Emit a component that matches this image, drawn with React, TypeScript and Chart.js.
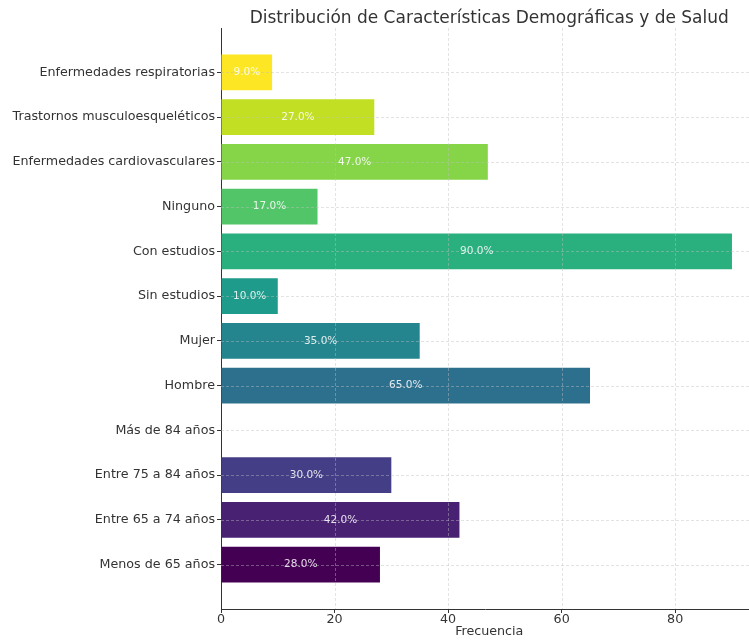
import React, { useEffect, useRef } from "react";
import { Chart, registerables } from "chart.js";

Chart.register(...registerables);

const categories = [
  "Menos de 65 años",
  "Entre 65 a 74 años",
  "Entre 75 a 84 años",
  "Más de 84 años",
  "Hombre",
  "Mujer",
  "Sin estudios",
  "Con estudios",
  "Ninguno",
  "Enfermedades cardiovasculares",
  "Trastornos musculoesqueléticos",
  "Enfermedades respiratorias",
];
const values = [28, 42, 30, 0, 65, 35, 10, 90, 17, 47, 27, 9];
const percentLabels = ["28.0%", "42.0%", "30.0%", "0.0%", "65.0%", "35.0%", "10.0%", "90.0%", "17.0%", "47.0%", "27.0%", "9.0%"];
const colors = [
  "#440154", "#482173", "#433e85", "#38588c", "#2d708e", "#25858e",
  "#1e9b8a", "#2ab07f", "#52c569", "#86d549", "#c2df23", "#fde725",
];
const xTicks = [0, 20, 40, 60, 80];
const titleText = "Distribución de Características Demográficas y de Salud";
const xTitle = "Frecuencia";

const FONT = "'DejaVu Sans', sans-serif";

export default function App() {
  const ref = useRef<HTMLCanvasElement | null>(null);
  useEffect(() => {
    document.body.style.margin = "0";
    const canvas = ref.current!;
    const overlay = {
      id: "overlay",
      afterDatasetsDraw(chart: any) {
        const { ctx, chartArea, scales } = chart;
        const xs = scales.x, ys = scales.y;
        ctx.save();
        ctx.beginPath();
        ctx.rect(chartArea.left, chartArea.top, chartArea.right - chartArea.left, chartArea.bottom - chartArea.top);
        ctx.clip();
        ctx.strokeStyle = "rgba(190,190,190,0.55)";
        ctx.lineWidth = 0.8;
        ctx.setLineDash([3, 2]);
        xTicks.forEach((t) => {
          if (t === 0) return;
          const px = Math.round(xs.getPixelForValue(t)) + 0.5;
          ctx.beginPath();
          ctx.moveTo(px, chartArea.top);
          ctx.lineTo(px, chartArea.bottom);
          ctx.stroke();
        });
        categories.forEach((_, i) => {
          const py = Math.round(ys.getPixelForValue(i)) + 0.5;
          ctx.beginPath();
          ctx.moveTo(chartArea.left, py);
          ctx.lineTo(chartArea.right, py);
          ctx.stroke();
        });
        ctx.restore();
        // bar labels
        ctx.save();
        const meta = chart.getDatasetMeta(0);
        ctx.font = `10.5px ${FONT}`;
        ctx.fillStyle = "rgba(255,255,255,0.85)";
        ctx.textAlign = "center";
        ctx.textBaseline = "middle";
        meta.data.forEach((bar: any, i: number) => {
          if (values[i] <= 0) return;
          const cx = (bar.base + bar.x) / 2;
          ctx.fillText(percentLabels[i], cx, bar.y);
        });
        ctx.restore();
        // title and x title centered on full (uncropped) axes
        const centerX = xs.getPixelForValue(47.25);
        ctx.save();
        ctx.fillStyle = "#333";
        ctx.textAlign = "center";
        ctx.textBaseline = "middle";
        ctx.font = `17px ${FONT}`;
        ctx.fillText(titleText, centerX, 19);
        ctx.font = `12.7px ${FONT}`;
        ctx.fillText(xTitle, centerX, 632);
        ctx.restore();
      },
    };
    const chart = new Chart(canvas, {
      type: "bar",
      data: {
        datasets: [
          {
            data: values.map((v, i) => ({ x: v, y: i })),
            backgroundColor: colors,
            borderWidth: 0,
            barPercentage: 0.8,
            categoryPercentage: 1.0,
          },
        ],
      },
      options: {
        indexAxis: "y",
        responsive: false,
        animation: false,
        layout: { padding: { top: 28, right: 0, left: 0, bottom: 0 } },
        plugins: { legend: { display: false }, tooltip: { enabled: false }, title: { display: false } },
        scales: {
          x: {
            type: "linear",
            min: 0,
            max: 93,
            offset: false,
            afterBuildTicks: (s: any) => {
              s.ticks = xTicks.map((v) => ({ value: v }));
            },
            afterFit: (s: any) => {
              s.height = 32;
            },
            grid: { drawOnChartArea: false, drawTicks: true, tickLength: 4, color: "#333", offset: false },
            border: { display: true, color: "#333", width: 1 },
            ticks: { color: "#333", font: { family: FONT, size: 12.7 }, padding: -1, autoSkip: false, maxRotation: 0 },
          },
          y: {
            type: "linear",
            min: -0.99,
            max: 11.99,
            offset: false,
            afterBuildTicks: (s: any) => {
              s.ticks = categories.map((_, i) => ({ value: i }));
            },
            afterFit: (s: any) => {
              s.width = 221;
            },
            grid: { drawOnChartArea: false, drawTicks: true, tickLength: 4, color: "#333", offset: false },
            border: { display: true, color: "#333", width: 1 },
            ticks: {
              color: "#333",
              font: { family: FONT, size: 12.7 },
              padding: 2,
              autoSkip: false,
              callback: (v: any) => categories[v as number] ?? "",
            },
          },
        },
      },
      plugins: [overlay],
    } as any);
    return () => chart.destroy();
  }, []);
  return (
    <div style={{ width: 749, height: 641, background: "#fff" }}>
      <canvas ref={ref} width={749} height={641} />
    </div>
  );
}
